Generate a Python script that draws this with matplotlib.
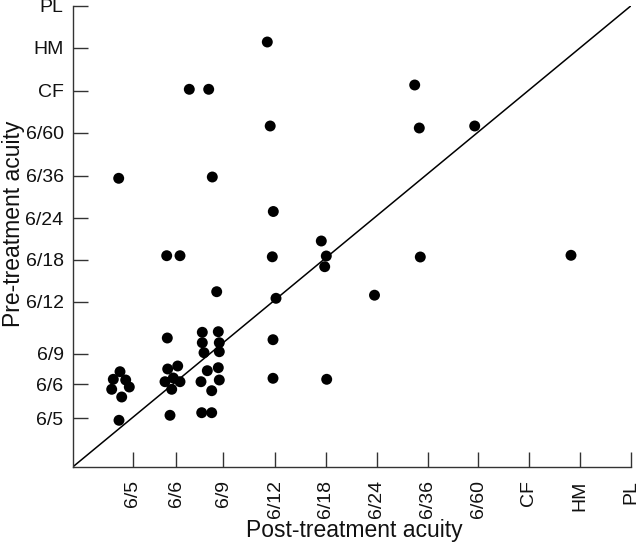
import matplotlib
matplotlib.use("Agg")
import matplotlib.pyplot as plt

plt.rcParams['font.family'] = ['Liberation Sans', 'DejaVu Sans']

# Acuity scale labels and their positions along each axis (axis units)
acuity_labels = ["6/5", "6/6", "6/9", "6/12", "6/18", "6/24", "6/36", "6/60", "CF", "HM", "PL"]
x_tick_pos = [60, 103.3, 150.6, 202.4, 252.8, 303.9, 354.9, 405.6, 456.3, 507.3, 558]
y_tick_pos = [48.7, 82.7, 113, 165.3, 207, 248.7, 291.3, 334.3, 376.3, 419, 461]

# Individual eyes: post-treatment (x) vs pre-treatment (y)
post_x = [40.6, 47.3, 53.0, 39.0, 56.6, 49.0, 46.3, 46.0,
          95.0, 105.0, 92.3, 100.6, 107.3, 99.0, 97.3, 94.6, 94.0, 107.3,
          116.6, 136.0, 139.6, 144.0,
          129.6, 145.6, 129.6, 146.6, 131.3, 146.6, 134.6, 145.6, 128.3, 146.6, 139.0, 129.0, 139.0,
          194.6, 197.5, 200.6, 199.6, 203.3, 200.3, 200.3,
          248.6, 253.6, 252.0, 254.0, 301.8,
          342.0, 346.6, 347.6, 402.0, 498.3]
pre_y = [87.7, 95.3, 87.0, 77.7, 80.0, 70.0, 46.7, 288.7,
         98.0, 101.0, 85.3, 89.0, 85.3, 77.7, 51.7, 129.0, 211.3, 211.3,
         377.7, 377.7, 290.0, 175.3,
         134.7, 135.3, 124.3, 124.3, 114.3, 115.3, 96.3, 99.3, 85.3, 87.0, 76.3, 54.3, 54.3,
         425.0, 341.0, 255.5, 210.2, 168.7, 127.3, 88.7,
         226.0, 211.0, 200.3, 87.7, 171.8,
         382.0, 339.0, 210.0, 341.0, 211.7]

fig = plt.figure(figsize=(6.4, 5.42), dpi=100)
ax = fig.add_axes([72.7 / 640, 75 / 542, 558 / 640, 461 / 542])
ax.set_xlim(0, x_tick_pos[-1])
ax.set_ylim(0, y_tick_pos[-1])

# line of equality
ax.plot([0, x_tick_pos[-1]], [0, y_tick_pos[-1]], color='black', lw=1.1, zorder=2)
ax.scatter(post_x, pre_y, s=62, color='black', edgecolors='none', zorder=3, clip_on=False)

for side in ['top', 'right']:
    ax.spines[side].set_visible(False)
for side in ['left', 'bottom']:
    ax.spines[side].set_color('#333333')
    ax.spines[side].set_linewidth(1.0)

ax.set_xticks(x_tick_pos)
ax.set_xticklabels(acuity_labels, rotation=90)
ax.set_yticks(y_tick_pos)
ax.set_yticklabels(acuity_labels)
ax.tick_params(axis='both', direction='in', length=10.8, width=1.0, color='#333333',
               labelsize=14, labelcolor='#111111')
ax.tick_params(axis='x', pad=9.5)
ax.tick_params(axis='y', pad=6.6)

fig.text(354 / 640, (542 - 537) / 542, "Post-treatment acuity", ha='center', va='baseline',
         fontsize=16.5, color='#111111')
fig.text(20 / 640, (542 - 224) / 542, "Pre-treatment acuity", ha='center', va='baseline',
         rotation=90, rotation_mode='anchor', fontsize=16.5, color='#111111')

fig.savefig("out.png", dpi=100)
